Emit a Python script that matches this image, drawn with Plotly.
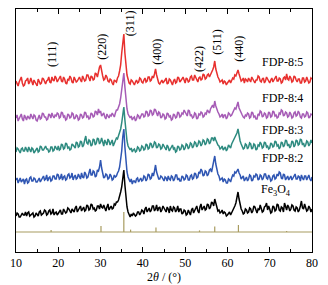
import numpy as np
import plotly.graph_objects as go

# 2theta grid (degrees), 0.25 deg steps from 10 to 80
two_theta = np.round(np.arange(10, 80.001, 0.25), 2)

fdp_8_5 = [2, 0, -3, 1, 4, 6, 0, -3, -2, 2, 3, 5, -1, 1, 5, 0, -2, 3, 1, -1,
           -3, 4, 2, -1, 0, 5, 4, 1, -1, 2, 3, 6, 1, 0, 6, 3, 2, 7, 5, 1,
           3, 5, 7, 2, 1, 6, 4, 0, -1, 4, 3, 7, 5, 1, 0, 6, 4, 1, 2, 5,
           6, 3, 1, 7, 5, 2, 3, 8, 8, 4, 2, 7, 6, 3, 4, 10, 9, 6, 12, 16,
           18, 11, 7, 3, 4, 8, 6, 2, 1, 4, 3, 0, -2, 3, 2, 1, 5, 7, 12, 18,
           30, 42, 49, 30, 14, 8, 4, 0, -1, 3, 2, -1, -2, 1, 3, 0, 1, 5, 4, 1,
           0, 3, 5, 1, 2, 6, 6, 2, 3, 7, 5, 9, 14, 8, 4, 0, -1, 2, 3, 0,
           1, 3, 5, -1, 0, 4, 3, 1, -2, 2, 4, 0, 1, 6, 5, 1, 2, 4, 6, 2,
           0, 5, 4, 1, 2, 6, 7, 3, 3, 8, 5, 2, 1, 5, 6, 3, 4, 9, 8, 4,
           5, 8, 9, 6, 8, 11, 13, 16, 22, 14, 9, 6, 4, 1, 2, 3, -1, 2, 1, -2,
           0, 2, 3, 0, 2, 5, 4, 8, 7, 10, 13, 9, 6, 2, 3, 5, 0, 4, 3, 1,
           5, 2, 1, 6, 4, 1, 0, 3, 3, 7, 6, 2, 1, 4, 5, 0, 2, 6, 4, 1,
           0, 3, 5, 1, 3, 6, 7, 2, 2, 5, 4, 0, 1, 5, 6, 3, 9, 4, 3, 7,
           5, 1, 2, 7, 6, 3, 1, 4, 4, 0, 0, 5, 5, 1, 2, 6, 3, 0, 1, 5,
           4]

fdp_8_4 = [1, 4, -2, 0, 3, 5, 0, -2, 4, 2, -1, 3, 2, 0, 5, 2, 0, 4, 3, -1,
           -2, 1, 4, 0, 1, 6, 5, 2, 2, -1, 0, 5, 4, 1, 6, 3, 1, 4, 3, 6,
           5, 1, 2, 7, 6, 2, 3, -1, 0, 5, 4, 1, 2, 6, 5, 0, 1, 4, 3, -1,
           0, 5, 4, 1, 2, 7, 6, 2, 3, 0, 1, 6, 5, 2, 3, 8, 7, 4, 10, 6,
           8, 3, 4, 6, 2, 0, 5, 3, 1, 4, 3, 6, 4, 2, 6, 9, 9, 12, 15, 21,
           28, 38, 46, 32, 18, 10, 5, 2, 1, 3, -1, 1, 2, -2, 0, 4, 3, 0, 2, 5,
           5, 2, 3, 8, 7, 3, 4, 9, 8, 4, 5, 10, 9, 5, 3, 7, 6, 1, 2, 5,
           4, 0, 1, 6, 5, 2, 3, -1, 0, 5, 4, 1, 2, 7, 6, 2, 3, 6, 5, 9,
           7, 4, 3, 9, 8, 3, 4, 1, 2, 6, 5, 0, 1, 5, 4, 7, 6, 2, 3, 6,
           5, 9, 8, 6, 10, 12, 14, 11, 18, 13, 9, 7, 5, 2, 3, 5, 1, 4, 4, 0,
           2, 6, 5, 3, 4, 7, 8, 11, 10, 14, 17, 11, 8, 5, 4, 2, 1, 4, 3, 6,
           5, 1, 2, 7, 6, 2, 3, 0, 0, 5, 4, 8, 7, 2, 3, 6, 5, 1, 2, 7,
           6, 2, 3, 8, 7, 3, 4, 1, 2, 6, 5, 9, 8, 3, 4, 7, 6, 2, 3, 7,
           5, 1, 2, 6, 7, 3, 4, 8, 6, 2, 1, 5, 5, 2, 3, 7, 6, 1, 2, 5,
           4]

fdp_8_3 = [-2, 2, 1, -2, -3, 1, 2, -1, -1, 3, 0, -2, 3, 1, -2, 2, 1, -3, -1, 1,
           2, -2, -1, 4, 3, 0, 0, 2, 4, 1, 1, -2, -1, 3, 3, -1, 0, 4, 2, 0,
           4, 0, 1, 6, 5, 1, 2, 7, 6, 2, 3, 0, 1, 6, 5, 3, 2, 8, 7, 3,
           4, 9, 8, 3, 5, 10, 14, 7, 6, 10, 9, 4, 5, 11, 10, 5, 7, 12, 11, 6,
           8, 12, 6, 4, 10, 7, 5, 11, 9, 5, 7, 10, 4, 7, 8, 12, 11, 14, 16, 21,
           27, 36, 43, 30, 16, 9, 4, 1, 0, 2, -2, 0, 1, -2, -1, 3, 2, -1, 0, 4,
           3, 0, 1, 6, 5, 1, 2, 7, 6, 2, 4, 8, 7, 2, 3, 6, 5, 1, 2, 6,
           4, 1, 0, 5, 3, -1, 1, 4, 5, 1, 2, -2, -1, 4, 3, 0, 1, 5, 4, 0,
           2, 6, 5, 1, 3, 7, 6, 2, 4, 8, 7, 3, 5, 9, 8, 4, 6, 10, 9, 5,
           7, 11, 10, 6, 8, 12, 12, 9, 13, 10, 7, 5, 4, 1, 2, 4, 0, 2, 3, -1,
           1, 5, 4, 2, 6, 8, 10, 13, 14, 17, 21, 14, 9, 6, 4, 1, 2, 6, 5, 1,
           3, 7, 6, 1, 2, 6, 5, 0, 1, 5, 4, 8, 6, 2, 3, 8, 7, 3, 4, 1,
           2, 7, 6, 3, 4, 9, 8, 4, 5, 1, 3, 8, 7, 3, 5, 10, 9, 4, 6, 2,
           4, 9, 8, 3, 5, 10, 9, 5, 6, 11, 10, 5, 7, 3, 5, 9, 8, 4, 6, 10,
           7]

fdp_8_2 = [1, 3, -2, 0, 3, -1, 0, 2, -3, 1, 2, -2, -1, 3, 4, 0, 0, 3, 2, -1,
           -1, 2, 3, -1, 1, 4, 5, 1, 2, 6, 0, 3, 4, 0, 1, 5, 5, 2, 2, 7,
           6, 2, 3, 7, 1, 4, 5, 1, 2, 6, 7, 3, 4, 8, 1, 4, 6, 2, 3, 7,
           5, 2, 8, 4, 3, 9, 7, 3, 4, 8, 12, 6, 6, 10, 9, 4, 5, 11, 10, 14,
           21, 13, 8, 3, 4, 7, 6, 2, 3, 7, 5, 1, 2, 6, 4, 5, 8, 10, 14, 20,
           30, 44, 52, 34, 17, 9, 4, 1, -1, 2, -3, 0, 0, -2, 2, 3, -1, 1, 3, 0,
           1, 5, 4, 0, 2, 7, 6, 2, 3, 8, 5, 10, 16, 9, 6, 2, 2, 5, 4, 1,
           0, 4, 3, 0, 5, 2, 1, 5, 4, 0, 2, 6, 6, 1, 3, 0, 0, 5, 4, 1,
           2, 6, 5, 1, 1, 5, 6, 2, 3, 8, 7, 3, 4, 9, 8, 12, 10, 5, 6, 10,
           9, 5, 7, 11, 12, 9, 15, 19, 25, 17, 11, 7, 5, 1, 2, 3, -1, 2, 1, -2,
           -2, 2, 1, -1, 3, 6, 5, 9, 8, 10, 12, 8, 6, 2, 3, 5, 0, 3, 4, 0,
           2, 6, 5, 0, 1, 5, 4, 7, 6, 1, 2, 6, 5, 1, 3, 7, 7, 3, 2, 6,
           4, 0, 1, 5, 6, 2, 3, 7, 5, 9, 8, 3, 2, 7, 6, 1, 4, 5, 1, 3,
           5, 1, 3, 6, 7, 2, 2, 5, 4, 0, 6, 3, 1, 5, 5, 1, 3, 6, 2, 0,
           4]

fe3o4 = [-1, 2, 1, -2, -2, 1, 2, 0, 0, 3, -1, 2, 3, -1, 0, 2, 2, -2, -1, 2,
         1, -1, 3, 4, 0, 1, 2, 5, 4, 0, 1, 4, 5, 1, 2, 6, 0, 2, 3, 0,
         2, 4, 5, 1, 1, 6, 4, 2, 3, 7, 6, 3, 2, 6, 5, 3, 7, 9, 3, 5,
         6, 9, 4, 6, 8, 4, 5, 10, 9, 5, 6, 11, 10, 6, 7, 4, 5, 9, 9, 6,
         11, 8, 7, 10, 6, 4, 8, 11, 5, 8, 9, 6, 7, 11, 10, 13, 13, 15, 18, 23,
         28, 38, 45, 30, 16, 8, 3, 0, -2, 1, -1, 2, 1, -1, 0, 3, 3, 0, 2, 5,
         4, 1, 6, 8, 3, 5, 7, 3, 5, 9, 9, 4, 6, 10, 4, 7, 8, 3, 5, 9,
         7, 4, 3, 8, 6, 2, 9, 5, 4, 8, 7, 3, 5, 9, 3, 6, 6, 1, 2, 5,
         4, 0, 1, 5, 3, 0, 5, 7, 2, 4, 6, 9, 4, 2, 8, 11, 5, 7, 9, 5,
         6, 11, 10, 6, 8, 13, 12, 9, 16, 12, 9, 4, 5, 2, 3, 5, 1, 3, 2, -1,
         0, 2, 3, 0, 2, 5, 6, 9, 12, 17, 23, 16, 10, 6, 4, 1, 2, 6, 5, 2,
         3, 7, 6, 2, 4, 9, 8, 4, 2, 6, 5, 10, 7, 3, 4, 8, 9, 12, 5, 9,
         6, 2, 3, 9, 8, 4, 5, 11, 10, 5, 4, 8, 7, 3, 12, 7, 5, 10, 8, 4,
         6, 10, 9, 5, 4, 8, 7, 3, 5, 9, 14, 7, 6, 11, 8, 4, 5, 9, 7, 3,
         6]

# Standard Fe3O4 card (stick pattern)
std_pos = [18.3, 30.1, 35.5, 37.1, 43.1, 53.4, 57.0, 62.6, 74.0]
std_int = [10, 30, 100, 12, 22, 8, 28, 35, 5]

series_names = ["FDP-8:5", "FDP-8:4", "FDP-8:3", "FDP-8:2", "Fe<sub>3</sub>O<sub>4</sub>"]
series_vals = [fdp_8_5, fdp_8_4, fdp_8_3, fdp_8_2, fe3o4]

hkl_labels = ["(111)", "(220)", "(311)", "(400)", "(422)", "(511)", "(440)"]

# ---- styling / placement ----
colors = ["#e8302e", "#a65cb6", "#2e8b80", "#2f56b3", "#000000"]
offsets = [169, 133, 102, 71, 37]
std_offset = 20
std_scale = 0.2
std_color = "#a89c60"
label_x = [78.3, 78.3, 78.3, 78.3, 75.6]
label_y = [190, 154, 122, 94, 62]
hkl_x = [18.5, 30.3, 37.0, 43.3, 53.3, 57.5, 62.7]
hkl_y = [198, 205, 229, 200, 193, 210, 203]

font_family = "Liberation Serif, Times New Roman, serif"

fig = go.Figure()

for name, vals, col, off in zip(series_names, series_vals, colors, offsets):
    n = min(len(vals), len(two_theta))
    fig.add_trace(go.Scatter(
        x=two_theta[:n], y=np.array(vals[:n]) + off, mode="lines",
        line=dict(color=col, width=1.5), name=name, showlegend=False,
        hoverinfo="skip"))

# standard pattern: baseline + sticks
fig.add_trace(go.Scatter(x=[10, 80], y=[std_offset, std_offset], mode="lines",
                         line=dict(color=std_color, width=1.2), showlegend=False,
                         hoverinfo="skip"))
sx, sy = [], []
for p, h in zip(std_pos, std_int):
    sx += [p, p, None]
    sy += [std_offset, std_offset + h * std_scale, None]
fig.add_trace(go.Scatter(x=sx, y=sy, mode="lines",
                         line=dict(color=std_color, width=1.2), showlegend=False,
                         hoverinfo="skip"))

annotations = []
for txt, x, y in zip(series_names, label_x, label_y):
    annotations.append(dict(x=x, y=y, text=txt, showarrow=False, xanchor="right",
                            yanchor="middle", font=dict(family=font_family, size=12, color="black")))
for txt, x, y in zip(hkl_labels, hkl_x, hkl_y):
    annotations.append(dict(x=x, y=y, text=txt, showarrow=False, textangle=-90,
                            xanchor="center", yanchor="middle",
                            font=dict(family=font_family, size=12, color="black")))

# The page body has an 8px default margin, so the figure is sized to fit the window.
fig.update_layout(
    width=320, height=277,
    margin=dict(l=8, r=16, t=1, b=33),
    paper_bgcolor="white", plot_bgcolor="white",
    annotations=annotations,
    font=dict(family=font_family, size=12, color="black"),
    xaxis=dict(range=[10, 80], dtick=10, tick0=10, ticks="inside", ticklen=5,
               tickwidth=1, tickcolor="black", showline=True, linecolor="black",
               linewidth=1, mirror="ticks", showgrid=False, zeroline=False,
               minor=dict(dtick=5, ticks="inside", ticklen=3, tickcolor="black", showgrid=False),
               tickfont=dict(family=font_family, size=12),
               title=dict(text="2<i>θ</i> / (°)", font=dict(family=font_family, size=12), standoff=2)),
    yaxis=dict(range=[0, 243], showline=True, linecolor="black", linewidth=1,
               mirror=True, ticks="", showticklabels=False, showgrid=False,
               zeroline=False, fixedrange=True),
)

fig.write_html("out.html")
